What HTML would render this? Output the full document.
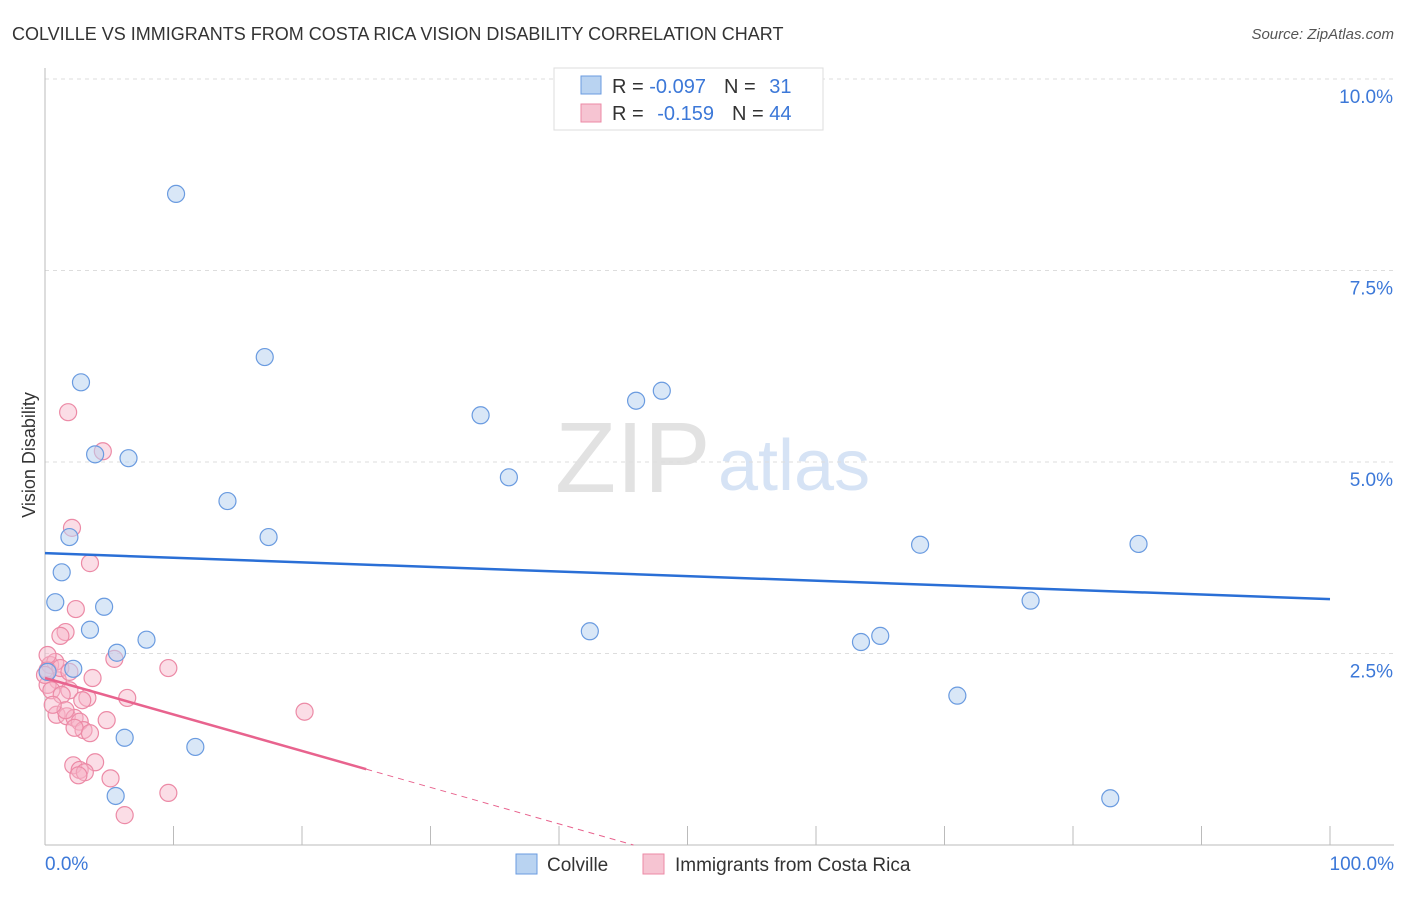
<!DOCTYPE html>
<html><head><meta charset="utf-8"><style>
body{margin:0;background:#fff;font-family:"Liberation Sans",sans-serif}
svg text{font-family:"Liberation Sans",sans-serif}
</style></head><body>
<svg id="c" width="1406" height="892">
<text x="12" y="40" font-size="18" fill="#333">COLVILLE VS IMMIGRANTS FROM COSTA RICA VISION DISABILITY CORRELATION CHART</text>
<text x="1394" y="39" font-size="15" fill="#555" font-style="italic" text-anchor="end">Source: ZipAtlas.com</text>
<text x="35" y="455" font-size="18" fill="#333" text-anchor="middle" transform="rotate(-90 35 455)">Vision Disability</text>
<text x="555" y="492" font-size="100" fill="#e2e2e2" font-family="Liberation Serif">ZIP</text>
<text x="718" y="490" font-size="72" fill="#d6e3f5">atlas</text>
<g id="grid"></g><g id="pts"></g><g id="trend"></g>
<g>
<rect x="554" y="68" width="269" height="62" fill="#fff" stroke="#ddd"/>
<rect x="581" y="76" width="20" height="18" fill="#b9d3f1" stroke="#6a9be0"/>
<rect x="581" y="104" width="20" height="18" fill="#f6c4d2" stroke="#ec8aa6"/>
<text x="612" y="93" font-size="20" fill="#333">R = <tspan fill="#3c78d8">-0.097</tspan><tspan dx="18">N = </tspan><tspan dx="8" fill="#3c78d8">31</tspan></text>
<text x="612" y="120" font-size="20" fill="#333">R = <tspan dx="8" fill="#3c78d8">-0.159</tspan><tspan dx="18">N = </tspan><tspan fill="#3c78d8">44</tspan></text>
</g>
<g>
<rect x="516" y="854" width="21" height="20" fill="#b9d3f1" stroke="#6a9be0"/>
<text x="547" y="871" font-size="19" fill="#333">Colville</text>
<rect x="643" y="854" width="21" height="20" fill="#f6c4d2" stroke="#ec8aa6"/>
<text x="675" y="871" font-size="19" fill="#333">Immigrants from Costa Rica</text>
</g>
</svg>
<script>
const yTicks=[2.5,5.0,7.5,10.0];
const xTickCount=10;
const blueX=[10.2,17.1,2.8,33.9,46.0,48.0,3.9,6.5,36.1,14.2,17.4,1.9,1.3,68.1,85.1,0.8,4.6,76.7,3.5,42.4,7.9,5.6,65.0,63.5,2.2,71.0,6.2,11.7,5.5,82.9,0.2];
const blueY=[8.50,6.37,6.04,5.61,5.80,5.93,5.10,5.05,4.80,4.49,4.02,4.02,3.56,3.92,3.93,3.17,3.11,3.19,2.81,2.79,2.68,2.51,2.73,2.65,2.30,1.95,1.40,1.28,0.64,0.61,2.26];
const pinkX=[1.8,4.5,2.1,3.5,2.4,1.6,1.2,5.4,9.6,0.4,0.8,0.2,1.0,0.2,0.5,1.9,3.7,6.4,1.3,3.3,20.2,0.9,1.7,2.3,2.7,4.8,3.0,2.3,3.5,3.9,2.2,2.7,3.1,2.6,5.1,9.6,6.2,1.6,0.0,0.2,0.6,1.2,1.9,2.9];
const pinkY=[5.65,5.14,4.14,3.68,3.08,2.78,2.73,2.43,2.31,2.35,2.39,2.28,2.15,2.09,2.02,2.02,2.18,1.92,1.96,1.92,1.74,1.70,1.68,1.66,1.61,1.63,1.50,1.53,1.46,1.08,1.04,0.98,0.95,0.91,0.87,0.68,0.39,1.76,2.22,2.48,1.83,2.31,2.26,1.89];
const blueTrend=[3.81,3.21];
const pinkTrend=[2.18,-2.58];
const pinkSolidEnd=25;
const NS="http://www.w3.org/2000/svg";
const sx=v=>45+v*12.85, sy=v=>845-v*76.6;
function mk(t,a,p){const e=document.createElementNS(NS,t);for(const k in a)e.setAttribute(k,a[k]);p.appendChild(e);return e;}
const grid=document.getElementById('grid');
yTicks.forEach(t=>{
 const l=mk('line',{x1:45,x2:1394,y1:sy(t),y2:sy(t),stroke:'#ddd','stroke-dasharray':'4,4'},grid);
 
 
 const tx=mk('text',{x:1393,y:sy(t)+24,'font-size':19,fill:'#3c78d8','text-anchor':'end'},grid);tx.textContent=t.toFixed(1)+'%';
 
 
});
mk('line',{x1:45,x2:45,y1:68,y2:845,stroke:'#bbb'},grid);
mk('line',{x1:45,x2:1394,y1:845,y2:845,stroke:'#bbb'},grid);
for(let i=0;i<=xTickCount;i++){const x=sx(i*100/xTickCount);const t=mk('line',{x1:x,x2:x,y1:826,y2:845,stroke:'#bbb'},grid);
 
 }
let a=mk('text',{x:45,y:870,'font-size':19,fill:'#3c78d8'},grid);a.textContent='0.0%';


a=mk('text',{x:1394,y:870,'font-size':19,fill:'#3c78d8','text-anchor':'end'},grid);a.textContent='100.0%';


const pts=document.getElementById('pts');
pinkX.forEach((x,i)=>{const c=mk('circle',{cx:sx(x),cy:sy(pinkY[i]),r:8.5,fill:'rgba(246,180,200,0.45)',stroke:'#ec8aa6','stroke-width':1.2},pts);
 
 });
blueX.forEach((x,i)=>{const c=mk('circle',{cx:sx(x),cy:sy(blueY[i]),r:8.5,fill:'rgba(185,211,241,0.55)',stroke:'#6a9be0','stroke-width':1.2},pts);
 
 });
const tr=document.getElementById('trend');
let l=mk('line',{x1:sx(0),y1:sy(blueTrend[0]),x2:sx(100),y2:sy(blueTrend[1]),stroke:'#2a6fd6','stroke-width':2.5},tr);


const pv=x=>pinkTrend[0]+(pinkTrend[1]-pinkTrend[0])*x/100;
l=mk('line',{x1:sx(0),y1:sy(pv(0)),x2:sx(pinkSolidEnd),y2:sy(pv(pinkSolidEnd)),stroke:'#e8638e','stroke-width':2.5},tr);


const xz=pinkTrend[0]/(pinkTrend[0]-pinkTrend[1])*100;
l=mk('line',{x1:sx(pinkSolidEnd),y1:sy(pv(pinkSolidEnd)),x2:sx(xz),y2:sy(0),stroke:'#e8638e','stroke-width':1,'stroke-dasharray':'6,5'},tr);


</script>
</body></html>
